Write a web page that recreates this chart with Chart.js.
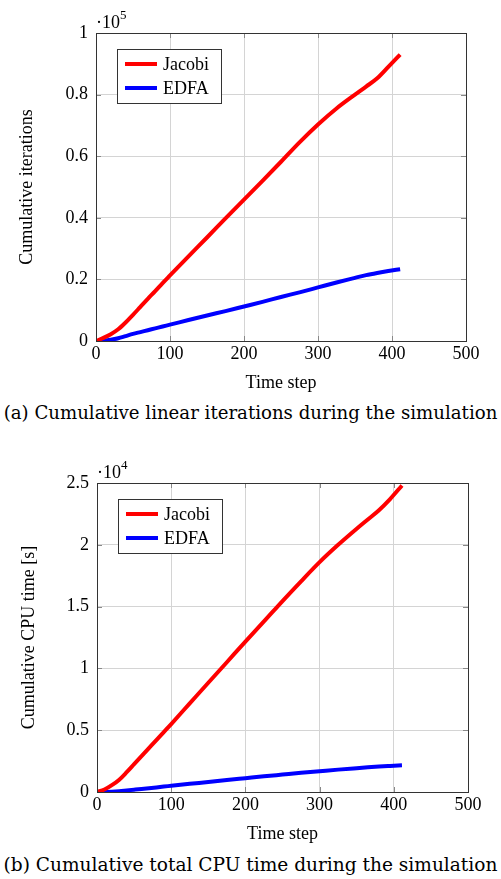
<!DOCTYPE html>
<html><head><meta charset="utf-8">
<script src="https://cdn.jsdelivr.net/npm/chart.js@4/dist/chart.umd.min.js"></script>
<style>
html,body{margin:0;padding:0;background:#fff;}
body{width:501px;height:879px;position:relative;overflow:hidden;}
.wrap{position:absolute;left:0;width:501px;}
.cap{position:absolute;left:0;width:501px;text-align:center;font-family:"DejaVu Serif";white-space:nowrap;color:#000;line-height:1;}
</style></head>
<body>
<div class="wrap" style="top:0;height:400px;"><canvas id="c1"></canvas></div>
<div class="wrap" style="top:440px;height:411px;"><canvas id="c2"></canvas></div>
<div class="cap" id="capA">(a) Cumulative linear iterations during the simulation</div>
<div class="cap" id="capB">(b) Cumulative total CPU time during the simulation</div>
<script>
// ---- data ----
const steps = [0,10,20,30,40,50,60,70,80,90,100,125,150,175,200,225,250,275,300,325,350,365,380,395,411];
const jacobiIter = [0,1000,2200,3800,6000,8500,11100,13700,16200,18800,21300,27500,33600,39800,45900,52000,58200,64500,70300,75500,80000,82600,85300,89000,93000];
const edfaIter = [0,100,400,900,1600,2300,2900,3500,4100,4700,5300,6800,8300,9700,11200,12700,14300,15800,17400,19000,20500,21400,22100,22700,23300];
const jacobiCPU = [0,200,550,1000,1600,2250,2900,3550,4200,4850,5500,7170,8840,10500,12170,13800,15450,17050,18600,20000,21300,22050,22800,23700,24800];
const edfaCPU = [0,10,30,70,130,190,250,310,370,440,500,660,810,970,1120,1270,1410,1550,1680,1810,1930,2000,2060,2110,2160];
const seriesNames = ['Jacobi','EDFA'];
const xTicks = [0,100,200,300,400,500];
const yTicksIter = [0,0.2,0.4,0.6,0.8,1];      // x 10^5
const yTicksCPU = [0,0.5,1,1.5,2,2.5];         // x 10^4

const FONT = 'Liberation Serif';
Chart.defaults.font.family = '"Liberation Serif"';
Chart.defaults.font.size = 18;
Chart.defaults.color = '#000';

function pts(xs, ys){ return xs.map((x,i)=>({x:x,y:ys[i]})); }

const boxPlugin = {
  id:'boxPlugin',
  beforeDatasetsDraw(chart){
    const a = chart.chartArea, ctx = chart.ctx;
    ctx.save();
    ctx.strokeStyle = '#888';
    ctx.lineWidth = 1;
    const xs = chart.scales.x, ys = chart.scales.y;
    xs.ticks.forEach(t=>{ const p = Math.round(xs.getPixelForValue(t.value))+0.5;
      ctx.beginPath(); ctx.moveTo(p,a.bottom); ctx.lineTo(p,a.bottom-5); ctx.moveTo(p,a.top); ctx.lineTo(p,a.top+5); ctx.stroke(); });
    ys.ticks.forEach(t=>{ const p = Math.round(ys.getPixelForValue(t.value))+0.5;
      ctx.beginPath(); ctx.moveTo(a.left,p); ctx.lineTo(a.left+5,p); ctx.moveTo(a.right,p); ctx.lineTo(a.right-5,p); ctx.stroke(); });
    ctx.restore();
  },
  afterDatasetsDraw(chart, args, opts){
    const a = chart.chartArea, ctx = chart.ctx;
    ctx.save();
    ctx.strokeStyle = '#333';
    ctx.lineWidth = 1;
    ctx.strokeRect(Math.round(a.left)+0.5, Math.round(a.top)+0.5, Math.round(a.right-a.left), Math.round(a.bottom-a.top));
    ctx.fillStyle = '#000';
    ctx.textBaseline = 'middle';
    ctx.textAlign = 'left';
    ctx.font = '18px "'+FONT+'"';
    const t = '\u00b710';
    ctx.fillText(t, a.left, a.top - 10);
    const w = ctx.measureText(t).width;
    ctx.font = '13px "'+FONT+'"';
    ctx.fillText(opts.exp, a.left + w, a.top - 17);
    const bx = a.left + 21, by = a.top + 16, bw = 104, bh = 54;
    ctx.fillStyle = '#fff';
    ctx.fillRect(bx, by, bw, bh);
    ctx.strokeStyle = '#333';
    ctx.strokeRect(Math.round(bx)+0.5, Math.round(by)+0.5, bw, bh);
    chart.data.datasets.forEach((ds, i)=>{
      const y = by + 15 + i*24;
      ctx.strokeStyle = ds.borderColor;
      ctx.lineWidth = 4;
      ctx.beginPath(); ctx.moveTo(bx+8, y); ctx.lineTo(bx+40, y); ctx.stroke();
      ctx.fillStyle = '#000';
      ctx.font = '18px "'+FONT+'"';
      ctx.textBaseline = 'middle';
      ctx.fillText(ds.label, bx+46, y+1);
    });
    ctx.restore();
  }
};

function makeChart(id, redData, blueData, yTicks, scale, exp, ytitle, pad, yW){
  return new Chart(document.getElementById(id), {
    type:'line',
    data:{datasets:[
      {label:seriesNames[0], data:pts(steps, redData), borderColor:'#ff0000', borderWidth:4, pointRadius:0, cubicInterpolationMode:'monotone', fill:false},
      {label:seriesNames[1], data:pts(steps, blueData), borderColor:'#0000ff', borderWidth:4, pointRadius:0, cubicInterpolationMode:'monotone', fill:false}
    ]},
    options:{
      responsive:true, maintainAspectRatio:false, animation:false,
      layout:{padding:pad},
      plugins:{legend:{display:false}, tooltip:{enabled:false}, boxPlugin:{exp:exp}},
      scales:{
        x:{type:'linear', min:0, max:500,
           afterBuildTicks(s){ s.ticks = xTicks.map(v=>({value:v})); },
           afterFit(s){ s.height = 59; },
           ticks:{padding:2, maxRotation:0, callback:v=>String(v)},
           grid:{color:'#d4d4d4', drawTicks:false, lineWidth:1},
           border:{display:false},
           title:{display:true, text:'Time step', padding:{top:0,bottom:6}}
        },
        y:{type:'linear', min:0, max:yTicks[yTicks.length-1]*scale,
           afterBuildTicks(s){ s.ticks = yTicks.map(v=>({value:v*scale})); },
           afterFit(s){ s.width = yW; },
           ticks:{padding:8, callback:v=>String(parseFloat((v/scale).toFixed(2)))},
           grid:{color:'#d4d4d4', drawTicks:false, lineWidth:1},
           border:{display:false},
           title:{display:true, text:ytitle, padding:{top:pad.tp,bottom:0}}
        }
      }
    },
    plugins:[boxPlugin]
  });
}

makeChart('c1', jacobiIter, edfaIter, yTicksIter, 1e5, '5', 'Cumulative iterations', {top:33,right:35,left:0,bottom:0,tp:16}, 96);
makeChart('c2', jacobiCPU, edfaCPU, yTicksCPU, 1e4, '4', 'Cumulative CPU time [s]', {top:43,right:33,left:0,bottom:0,tp:18}, 97);

function fitCap(id, cy){
  const el = document.getElementById(id);
  const c = document.createElement('canvas').getContext('2d');
  c.font = '16px "DejaVu Serif"';
  const w = c.measureText(el.textContent).width;
  const fs = 16 * 494 / w;
  el.style.fontSize = fs.toFixed(2)+'px';
  el.style.top = (cy - fs/2) + 'px';
}
fitCap('capA', 413);
fitCap('capB', 865);
</script>
</body></html>
